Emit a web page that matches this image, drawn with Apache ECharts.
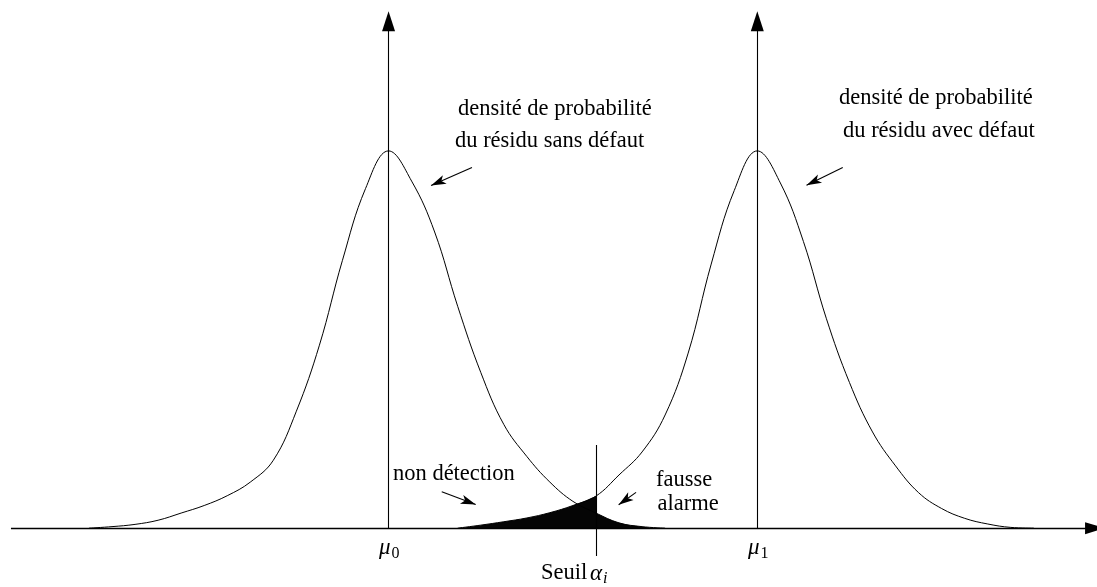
<!DOCTYPE html>
<html>
<head>
<meta charset="utf-8">
<script src="https://cdn.jsdelivr.net/npm/echarts@6/dist/echarts.min.js"></script>
<style>
html,body{margin:0;padding:0;background:#ffffff;}
#c{width:1097px;height:587px;}
</style>
</head>
<body>
<div id="c"></div>
<script>
// ---- data (x: units where mu0 = 0, mu1 = 4; y: density, peak = 1) ----
const leftX = [-3.25, -3.00, -2.75, -2.50, -2.25, -2.00, -1.75, -1.50, -1.25, -1.00, -0.75, -0.50, -0.25, 0.00, 0.25, 0.50, 0.75, 1.00, 1.25, 1.50, 1.75, 2.00, 2.25, 2.50, 2.75, 3.00];
const leftY = [0.000, 0.004, 0.010, 0.021, 0.040, 0.060, 0.086, 0.122, 0.180, 0.310, 0.485, 0.710, 0.900, 1.000, 0.920, 0.785, 0.588, 0.413, 0.275, 0.190, 0.122, 0.071, 0.040, 0.014, 0.004, 0.000];
const rightX = [0.75, 1.00, 1.25, 1.50, 1.75, 2.00, 2.25, 2.50, 2.75, 3.00, 3.25, 3.50, 3.75, 4.00, 4.25, 4.50, 4.75, 5.00, 5.25, 5.50, 5.75, 6.00, 6.25, 6.50, 6.75, 7.00];
const rightY = [0.000, 0.008, 0.017, 0.027, 0.041, 0.060, 0.085, 0.141, 0.202, 0.300, 0.464, 0.700, 0.895, 1.000, 0.915, 0.760, 0.555, 0.386, 0.255, 0.165, 0.094, 0.052, 0.026, 0.011, 0.002, 0.000];
const mu = [0, 4];
const threshold = 2.25;
const thresholdSpan = [0.2204, -0.0738];
const axisXSpan = [-4.096, 7.664];
const axisYTop = 1.344;
// annotation arrows: [startX, startY, endX, endY]
const arrows = [
  [0.905, 0.956, 0.461, 0.908],
  [4.927, 0.956, 4.534, 0.909],
  [0.577, 0.0963, 0.945, 0.0626],
  [2.685, 0.0947, 2.496, 0.062]
];
const textLeft = ['densité de probabilité', 'du résidu sans défaut'];
const textRight = ['densité de probabilité', 'du résidu avec défaut'];
const textMiss = 'non détection';
const textFalse = ['fausse', 'alarme'];
const textSeuil = 'Seuil';
const muSymbol = 'μ';
const muSubs = ['0', '1'];
const alphaSymbol = 'α';
const alphaSub = 'i';

// ---- helpers ----
const pairs = (xs, ys) => xs.map((x, i) => [x, ys[i]]);
const missData = pairs(rightX, rightY).filter(p => p[0] <= threshold);
const falseData = pairs(leftX, leftY).filter(p => p[0] >= threshold);

const black = '#000000';
const serif = '"Liberation Serif", "Times New Roman", serif';
const font = '22.5px ' + serif;
const mathFont = 'italic 23px ' + serif;
const subFont = '16px ' + serif;

const curveBase = {
  type: 'line', symbol: 'none', showSymbol: false, smooth: 0.4,
  silent: true, animation: false, clip: false
};

const lines = [];
lines.push([{coord: [axisXSpan[0], 0], symbol: 'none', lineStyle: {width: 1.3}}, {coord: [axisXSpan[1], 0], symbol: 'triangle', symbolSize: [12, 20]}]);
mu.forEach(m => {
  lines.push([{coord: [m, 0], symbol: 'none', lineStyle: {width: 1.1}}, {coord: [m, axisYTop], symbol: 'triangle', symbolSize: [13, 20]}]);
});
lines.push([{coord: [threshold, thresholdSpan[0]], symbol: 'none', lineStyle: {width: 1.1}}, {coord: [threshold, thresholdSpan[1]], symbol: 'none'}]);
arrows.forEach(a => {
  lines.push([{coord: [a[0], a[1]], symbol: 'none', lineStyle: {width: 1.1}}, {coord: [a[2], a[3]], symbol: 'arrow', symbolSize: [7, 15]}]);
});

function txt(x, y, s, f) {
  return {type: 'text', x: x, y: y, silent: true, z: 10,
    style: {text: s, font: f || font, fill: black, align: 'left', verticalAlign: 'middle'}};
}

const option = {
  animation: false,
  backgroundColor: '#ffffff',
  grid: {left: 0, right: 0, top: 0, bottom: 0, containLabel: false},
  xAxis: {type: 'value', min: -4.215, max: 7.685, show: false},
  yAxis: {type: 'value', min: -0.156, max: 1.4, show: false},
  series: [
    Object.assign({}, curveBase, {data: missData, lineStyle: {width: 0}, areaStyle: {color: '#050505', opacity: 1}, z: 1}),
    Object.assign({}, curveBase, {data: falseData, lineStyle: {width: 0}, areaStyle: {color: '#050505', opacity: 1}, z: 1}),
    Object.assign({}, curveBase, {data: pairs(leftX, leftY), lineStyle: {color: black, width: 1}, z: 2}),
    Object.assign({}, curveBase, {data: pairs(rightX, rightY), lineStyle: {color: black, width: 1}, z: 2}),
    {
      type: 'line', data: [], silent: true, animation: false, clip: false, z: 3,
      markLine: {
        silent: true, animation: false,
        label: {show: false},
        emphasis: {disabled: true},
        symbol: ['none', 'none'],
        lineStyle: {type: 'solid', color: black, width: 1},
        data: lines
      }
    }
  ],
  graphic: [
    txt(458, 109.5, textLeft[0]),
    txt(455, 141, textLeft[1]),
    txt(839, 98.5, textRight[0]),
    txt(843, 131, textRight[1]),
    txt(393, 474, textMiss),
    txt(656, 480.5, textFalse[0]),
    txt(657.5, 504, textFalse[1]),
    txt(541, 573.5, textSeuil),
    txt(590, 573.5, alphaSymbol, mathFont),
    txt(603, 579, alphaSub, 'italic 16px ' + serif),
    txt(379, 548, muSymbol, mathFont),
    txt(391.5, 553.5, muSubs[0], subFont),
    txt(748, 548, muSymbol, mathFont),
    txt(760.5, 553.5, muSubs[1], subFont)
  ]
};
const chart = echarts.init(document.getElementById('c'), null, {renderer: 'canvas'});
chart.setOption(option);
</script>
</body>
</html>
